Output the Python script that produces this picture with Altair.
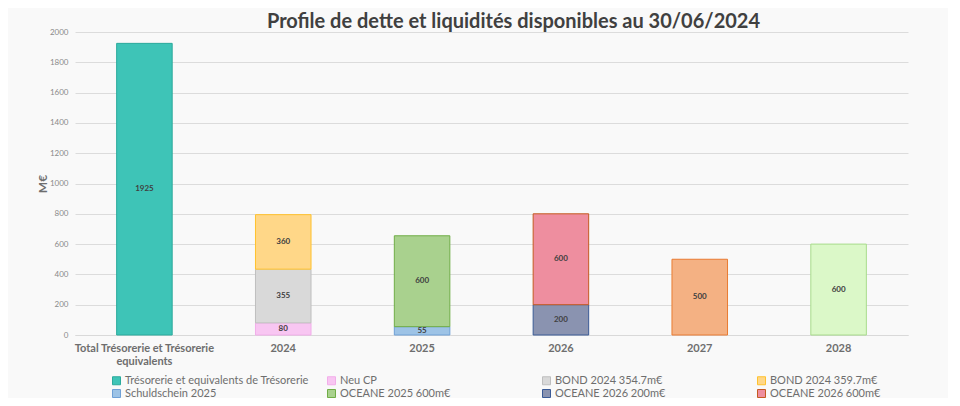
import altair as alt
import pandas as pd

categories = ["Total Trésorerie et Trésorerie equivalents", "2024", "2024", "2024",
              "2025", "2025", "2026", "2026", "2027", "2028"]
series = ["Trésorerie et equivalents de Trésorerie", "Neu CP", "BOND 2024 354.7m€",
          "BOND 2024 359.7m€", "Schuldschein 2025", "OCEANE 2025 600m€",
          "OCEANE 2026 200m€", "OCEANE 2026 600m€", "Obligation 2027 500m€",
          "Obligation 2028 600m€"]
values = [1925, 80, 354.7, 359.7, 55, 600, 200, 600, 500, 600]
stack_order = [0, 0, 1, 2, 0, 1, 0, 1, 0, 0]

cat_domain = ["Total Trésorerie et Trésorerie equivalents", "2024", "2025", "2026", "2027", "2028"]
fills = ["#3EC4B7", "#F8C6F2", "#D9D9D9", "#FFD788", "#9DC3E6", "#A9D18E",
         "#8A93B0", "#EE8E9F", "#F4B183", "#DBF8C8"]
strokes = ["#2BAA9C", "#F2AEEA", "#BFBFBF", "#FFC22E", "#6FA0D6", "#70AD47",
           "#3A5A96", "#C55A21", "#E97B32", "#A8DC8C"]
legend_series = series[:8]
y_ticks = [0, 200, 400, 600, 800, 1000, 1200, 1400, 1600, 1800, 2000]

df = pd.DataFrame({"category": categories, "series": series, "value": values,
                   "ord": stack_order})

base = alt.Chart(df).transform_stack(
    stack="value", groupby=["category"], as_=["y0", "y1"],
    sort=[alt.SortField("ord", order="ascending")]
).transform_calculate(mid="(datum.y0 + datum.y1) / 2")

x_axis = alt.Axis(labelAngle=0, labelFont="Lato", labelFontWeight="bold",
                  labelFontSize=11, labelColor="#6E6E6E", labelPadding=7,
                  ticks=False, domainColor="#D9D9D9", labelLineHeight=13,
                  labelExpr="length(datum.value) > 10 ? ['Total Trésorerie et Trésorerie', 'equivalents'] : datum.value")
x_scale = alt.Scale(paddingInner=0.6, paddingOuter=0.3)
y_axis = alt.Axis(values=y_ticks, format="d", labelOverlap=False,
                  labelFont="Lato", labelFontSize=8, labelColor="#8A8A8A",
                  labelPadding=7, ticks=False, domain=False,
                  gridColor="#DCDCDC", titleFont="Lato", titleFontSize=12,
                  titleFontWeight="bold", titleColor="#6E6E6E",
                  titlePadding=0)
y_scale = alt.Scale(domain=[0, 2000], nice=False)

bars = base.mark_bar(strokeWidth=1).encode(
    x=alt.X("category:N", sort=cat_domain, title=None, scale=x_scale, axis=x_axis),
    y=alt.Y("y0:Q", title="M€", scale=y_scale, axis=y_axis),
    y2="y1:Q",
    fill=alt.Fill("series:N", scale=alt.Scale(domain=series, range=fills),
                  legend=alt.Legend(orient="none", legendX=36, legendY=343,
                                    direction="horizontal",
                                    columns=4, gridAlign="all", columnPadding=16,
                                    rowPadding=0, title=None, values=legend_series,
                                    symbolType="square", symbolSize=64,
                                    symbolStrokeWidth=1, symbolStrokeColor="#8A8A8A",
                                    labelFont="Lato", labelFontSize=11,
                                    labelColor="#6E6E6E", labelOffset=3,
                                    labelLimit=220, symbolOpacity=1)),
    stroke=alt.Stroke("series:N", scale=alt.Scale(domain=series, range=strokes),
                      legend=None),
)

labels = base.mark_text(font="Lato", fontSize=8, fontWeight="bold",
                        color="#404040").encode(
    x=alt.X("category:N", sort=cat_domain, title=None, scale=x_scale, axis=x_axis),
    y=alt.Y("mid:Q", title="M€", scale=y_scale, axis=y_axis),
    text=alt.Text("value:Q", format=".0f"),
)

chart = alt.layer(bars, labels).properties(
    width=833, height=303,
    autosize=alt.AutoSizeParams(type="none"),
    padding={"left": 67, "top": 24, "right": 40, "bottom": 63},
    background="#F9F9F9",
    title=alt.TitleParams("Profile de dette et liquidités disponibles au 30/06/2024",
                          font="Lato", fontSize=20, fontWeight="bold",
                          color="#404040", anchor="middle", dx=22, dy=10, offset=6),
).configure_view(stroke=None)

chart.save("out.html", embed_options={"renderer": "svg", "actions": False})
